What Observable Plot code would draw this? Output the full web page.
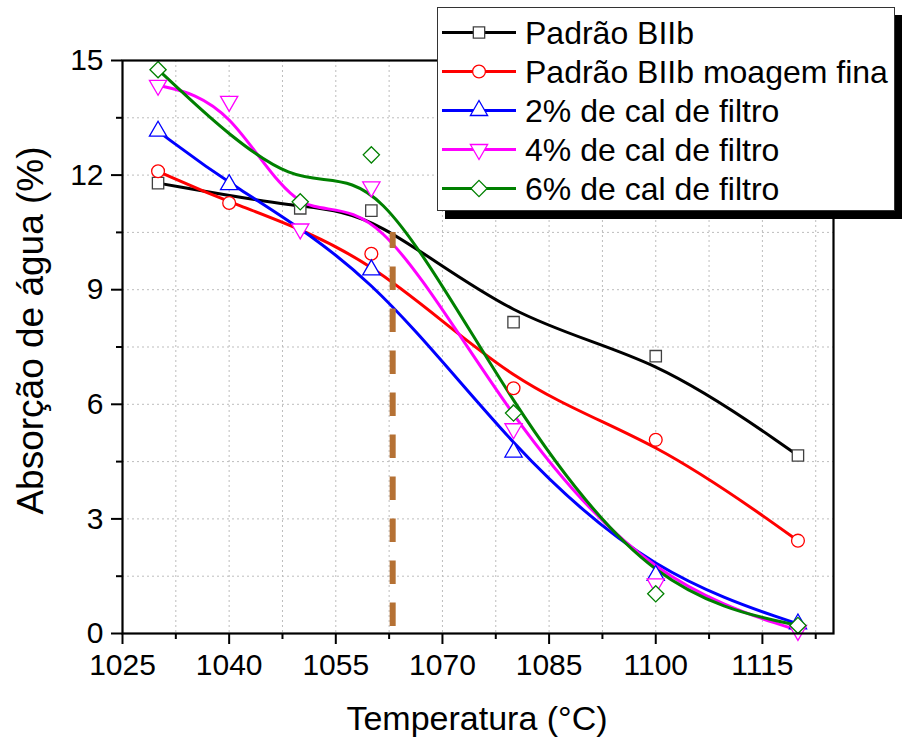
<!DOCTYPE html>
<html>
<head>
<meta charset="utf-8">
<script src="https://cdn.jsdelivr.net/npm/d3@7"></script>
<script src="https://cdn.jsdelivr.net/npm/@observablehq/plot@0.6"></script>
<style>
  body { margin: 0; background: #fff; font-family: "Liberation Sans", Arial, sans-serif; }
  #wrap { position: relative; width: 902px; height: 741px; overflow: hidden; background: #fff; }
  #chart { position: absolute; left: 0; top: 0; }
  .xtitle { position: absolute; left: 177px; width: 600px; top: 701px; text-align: center; font-size: 34px; line-height: 1; color: #000; white-space: nowrap; }
  .ytitle { position: absolute; left: -220px; top: 312px; width: 500px; height: 37px; text-align: center; font-size: 37px; line-height: 1; color: #000; white-space: nowrap; transform: rotate(-90deg); transform-origin: 50% 50%; }
  #legend { position: absolute; left: 437px; top: 7px; width: 458px; height: 204px; box-sizing: border-box; border: 1px solid #333; background: #fff; box-shadow: 8px 8px 0 #000; padding-top: 5px; }
  .row { display: flex; align-items: center; height: 39px; }
  .row svg { margin-left: 3px; flex: none; }
  .row span { margin-left: 8px; font-size: 32px; line-height: 1; color: #000; white-space: nowrap; }
</style>
</head>
<body>
<div id="wrap">
  <div id="chart"></div>
  <div class="ytitle">Absorção de água (%)</div>
  <div class="xtitle">Temperatura (°C)</div>
  <div id="legend"></div>
</div>
<script>
// ---- Data ----
const temperatures = [1030, 1040, 1050, 1060, 1080, 1100, 1120];
const seriesNames = ["Padrão BIIb", "Padrão BIIb moagem fina", "2% de cal de filtro", "4% de cal de filtro", "6% de cal de filtro"];
const padraoBIIb   = [11.79, null, 11.13, 11.07, 8.15, 7.26, 4.66];
const moagemFina   = [12.10, 11.27, null, 9.94, 6.42, 5.07, 2.43];
const cal2         = [13.15, 11.75, null, 9.52, 4.75, 1.52, 0.25];
const cal4         = [14.35, 13.93, 10.59, 11.69, 5.36, 1.30, 0.08];
const cal6         = [14.76, null, 11.30, 12.53, 5.77, 1.04, 0.21];
const seriesValues = [padraoBIIb, moagemFina, cal2, cal4, cal6];
const seriesColors = ["#000000", "#ff0000", "#0000ff", "#ff00ff", "#008000"];
const markerStroke = ["#404040", "#ff0000", "#0000ff", "#ff00ff", "#008000"];
const seriesSymbols = ["square", "circle", "triangle", "triangle", "diamond2"];
const symbolRotate = [0, 0, 0, 180, 0];
const symbolR = [6.4, 6.4, 6.4, 6.4, 7.3];
// Vertical dashed reference line (temperature, top value, bottom value)
const refLine = [{t: 1063, top: 10.5, bottom: 0}];
// Tick values
const xMajorTicks = [1025, 1040, 1055, 1070, 1085, 1100, 1115];
const xMinorTicks = [1032.5, 1047.5, 1062.5, 1077.5, 1092.5, 1107.5, 1122.5];
const yMajorTicks = [0, 3, 6, 9, 12, 15];
const yMinorTicks = [1.5, 4.5, 7.5, 10.5, 13.5];

// ---- Build tables ----
const tables = seriesValues.map((vals, s) =>
  temperatures.map((t, i) => ({t, v: vals[i], s: seriesNames[s]})).filter(d => d.v != null)
);
const xGrid = [...xMajorTicks.slice(1), ...xMinorTicks].filter(d => d < 1125);
const yGrid = [...yMajorTicks.slice(1, -1), ...yMinorTicks];

const gridStyle = {stroke: "#bdbdbd", strokeWidth: 1, strokeDasharray: "2,3", strokeOpacity: 1};

const marks = [
  Plot.ruleX(xGrid, gridStyle),
  Plot.ruleY(yGrid, gridStyle),
  ...tables.map((data, s) => Plot.line(data, {x: "t", y: "v", stroke: seriesColors[s], strokeWidth: 3, curve: "basis"})),
  ...tables.map((data, s) => Plot.dot(data, {
    x: "t", y: "v", symbol: seriesSymbols[s], r: symbolR[s], rotate: symbolRotate[s],
    stroke: markerStroke[s], fill: "white", strokeWidth: 1.3
  })),
  Plot.ruleX(refLine, {x: "t", y1: "top", y2: "bottom", stroke: "#b57134", strokeWidth: 6, strokeDasharray: "23.5,18.5", strokeDashoffset: 7.5}),
  Plot.axisX(xMajorTicks, {tickSize: 11, tickPadding: 9, fontSize: 30, strokeWidth: 2, tickFormat: d => String(d), label: null}),
  Plot.axisX(xMinorTicks, {tickSize: 6, strokeWidth: 2, tickFormat: () => "", label: null}),
  Plot.axisY(yMajorTicks, {tickSize: 11, tickPadding: 8, fontSize: 30, strokeWidth: 2, tickFormat: d => String(d), label: null}),
  Plot.axisY(yMinorTicks, {tickSize: 6, strokeWidth: 2, tickFormat: () => "", label: null}),
  Plot.frame({stroke: "#000", strokeWidth: 2.2})
];

const chart = Plot.plot({
  width: 902,
  height: 741,
  marginLeft: 122,
  marginRight: 69,
  marginTop: 60,
  marginBottom: 108,
  style: {fontFamily: "'Liberation Sans', Arial, sans-serif", background: "transparent", color: "#000"},
  x: {domain: [1025, 1125]},
  y: {domain: [0, 15]},
  marks
});
document.getElementById("chart").appendChild(chart);

// ---- Legend ----
const legend = d3.select("#legend");
const symbolTypes = {square: d3.symbolSquare, circle: d3.symbolCircle, triangle: d3.symbolTriangle, diamond2: d3.symbolDiamond2};
seriesNames.forEach((name, s) => {
  const row = legend.append("div").attr("class", "row");
  const svg = row.append("svg").attr("width", 76).attr("height", 39);
  svg.append("line").attr("x1", 1).attr("x2", 75).attr("y1", 19.5).attr("y2", 19.5)
    .attr("stroke", seriesColors[s]).attr("stroke-width", 3);
  svg.append("path")
    .attr("d", d3.symbol(symbolTypes[seriesSymbols[s]], Math.PI * symbolR[s] * symbolR[s])())
    .attr("transform", `translate(38,19.5) rotate(${symbolRotate[s]})`)
    .attr("fill", "white").attr("stroke", markerStroke[s]).attr("stroke-width", 1.3);
  row.append("span").text(name);
});
</script>
</body>
</html>
